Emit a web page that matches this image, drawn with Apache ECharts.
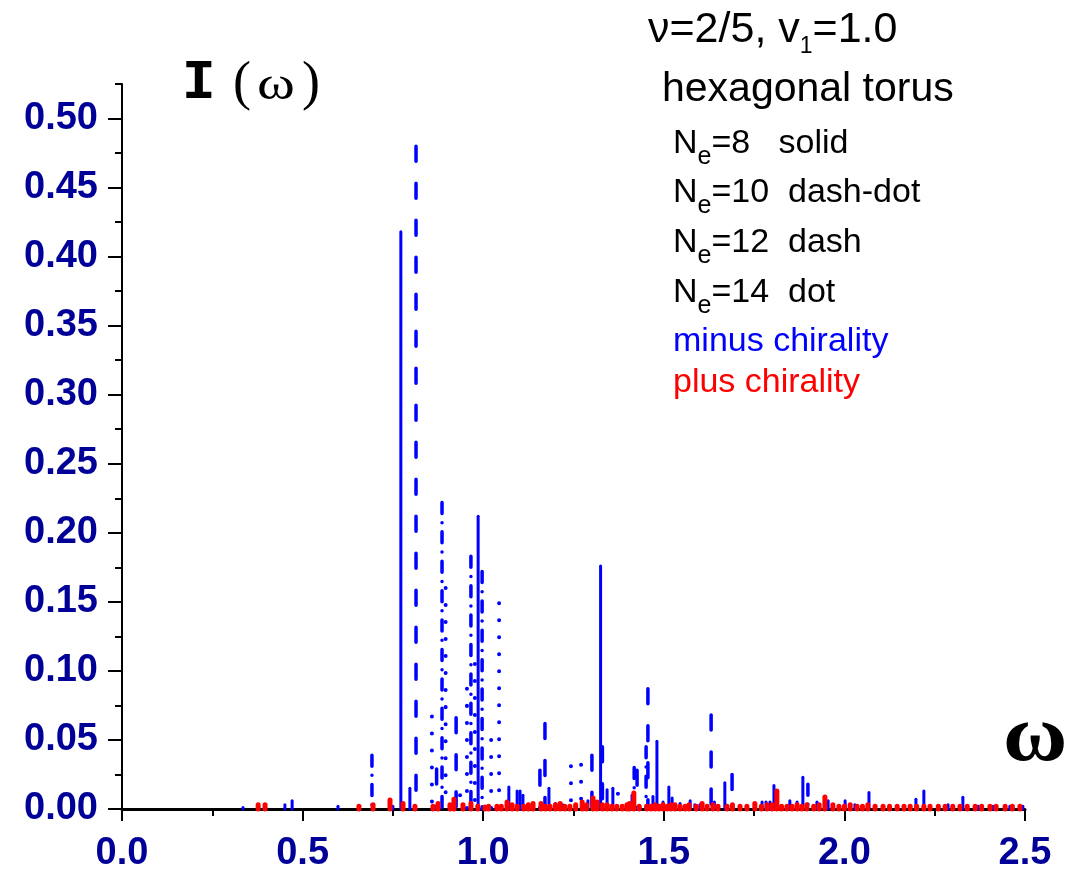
<!DOCTYPE html>
<html><head><meta charset="utf-8">
<script src="https://cdn.jsdelivr.net/npm/echarts@6/dist/echarts.min.js"></script>
<style>html,body{margin:0;padding:0;background:#fff}#c{width:1069px;height:873px}</style>
</head><body><div id="c"></div>
<script>
// ---- tick labels ----
const xTickValues = [0, 0.5, 1.0, 1.5, 2.0, 2.5];
const yTickValues = [0, 0.05, 0.10, 0.15, 0.20, 0.25, 0.30, 0.35, 0.40, 0.45, 0.50];

// ---- minus chirality (blue) ----
// N_e = 8, solid
const solidX = [0.471, 0.772, 0.986, 1.071, 1.325, 1.481, 1.514, 1.669, 1.805, 1.885, 2.068, 2.220, 2.328];
const solidY = [0.006, 0.418, 0.212, 0.016, 0.176, 0.049, 0.016, 0.019, 0.017, 0.023, 0.012, 0.013, 0.0085];
// N_e = 10, dash-dot
const dashDotX = [0.692, 0.886, 0.966, 0.997, 1.418, 1.451, 1.899];
const dashDotY = [0.039, 0.222, 0.183, 0.172, 0.030, 0.045, 0.018];
// N_e = 12, dash
const dashX = [0.814, 0.871, 0.925, 1.157, 1.171, 1.301, 1.330, 1.426, 1.456, 1.631, 1.689];
const dashY = [0.480, 0.029, 0.066, 0.028, 0.062, 0.039, 0.045, 0.028, 0.087, 0.068, 0.025];
// N_e = 14, dot
const dotX = [0.858, 0.896, 0.936, 0.955, 0.977, 1.022, 1.044, 1.243, 1.271, 1.373];
const dotY = [0.067, 0.160, 0.010, 0.087, 0.105, 0.050, 0.149, 0.031, 0.032, 0.011];
// small minus-chirality peaks
const minusSmallX = [0.335, 0.451, 0.598, 0.750, 0.797, 1.094, 1.102, 1.110, 1.182, 1.200, 1.220, 1.290, 1.343, 1.359, 1.412, 1.470, 1.498, 1.523, 1.545, 1.573, 1.586, 1.600, 1.640, 1.730, 1.772, 1.783, 1.794, 1.849, 1.869, 1.924, 1.955, 2.002, 2.029, 2.198, 2.287, 2.370, 2.411, 2.458, 2.494];
const minusSmallY = [0.001, 0.003, 0.002, 0.002, 0.015, 0.013, 0.013, 0.010, 0.015, 0.004, 0.003, 0.006, 0.014, 0.015, 0.010, 0.009, 0.005, 0.008, 0.004, 0.006, 0.003, 0.003, 0.005, 0.002, 0.005, 0.005, 0.005, 0.006, 0.005, 0.005, 0.006, 0.006, 0.003, 0.007, 0.003, 0.002, 0.002, 0.002, 0.002];

// ---- plus chirality (red) ----
const plusX = [0.377, 0.396, 0.656, 0.695, 0.742, 0.778, 0.811, 0.861, 0.875, 0.908, 0.919, 0.944, 0.966, 1.005, 1.038, 1.066, 1.094, 1.138, 1.160, 1.185, 1.213, 1.240, 1.274, 1.304, 1.315, 1.343, 1.370, 1.398, 1.417, 1.453, 1.476, 1.498, 1.531, 1.559, 1.606, 1.636, 1.675, 1.711, 1.752, 1.786, 1.813, 1.841, 1.869, 1.896, 1.946, 1.968, 2.016, 2.035, 2.065, 2.107, 2.146, 2.182, 2.237, 2.279, 2.320, 2.362, 2.403, 2.445, 2.486];
const plusY = [0.003, 0.003, 0.002, 0.003, 0.0065, 0.004, 0.002, 0.002, 0.004, 0.003, 0.007, 0.003, 0.004, 0.0015, 0.002, 0.005, 0.002, 0.004, 0.004, 0.002, 0.004, 0.002, 0.005, 0.008, 0.005, 0.003, 0.002, 0.003, 0.0115, 0.002, 0.003, 0.003, 0.003, 0.002, 0.004, 0.003, 0.002, 0.002, 0.004, 0.003, 0.013, 0.002, 0.003, 0.003, 0.0087, 0.003, 0.003, 0.002, 0.003, 0.002, 0.002, 0.002, 0.002, 0.002, 0.002, 0.002, 0.002, 0.002, 0.002];
// dense low plus-chirality peaks along the baseline
const plusBaseX = [0.985, 1.015, 1.050, 1.080, 1.112, 1.125, 1.172, 1.200, 1.226, 1.256, 1.286, 1.330, 1.356, 1.385, 1.405, 1.432, 1.465, 1.487, 1.510, 1.520, 1.545, 1.570, 1.590, 1.620, 1.650, 1.690, 1.730, 1.770, 1.800, 1.826, 1.855, 1.882, 1.915, 1.930, 1.985, 2.000, 2.050, 2.085, 2.125, 2.165, 2.200, 2.220, 2.260, 2.300, 2.340, 2.380, 2.420, 2.465];
const plusBaseY = [0.002, 0.002, 0.002, 0.003, 0.002, 0.003, 0.002, 0.003, 0.002, 0.003, 0.003, 0.003, 0.002, 0.002, 0.004, 0.002, 0.002, 0.002, 0.002, 0.003, 0.002, 0.003, 0.002, 0.002, 0.002, 0.003, 0.002, 0.002, 0.003, 0.002, 0.002, 0.002, 0.002, 0.003, 0.002, 0.002, 0.002, 0.002, 0.002, 0.002, 0.002, 0.002, 0.002, 0.002, 0.002, 0.002, 0.002, 0.002];

const BLUE = '#0000ff', RED = '#ff0000', NAVY = '#000099';
const SANS = '"Liberation Sans", Arial, sans-serif';
const SERIF = '"Liberation Serif", "Times New Roman", serif';
const MONO = '"Liberation Mono", "Courier New", monospace';

function zip(xs, ys) { return xs.map((x, i) => [x, ys[i]]); }
function stick(color, width, dash) {
  return function (params, api) {
    const x = api.value(0), h = api.value(1);
    const top = api.coord([x, h]), bot = api.coord([x, 0]);
    return { type: 'line',
      shape: { x1: top[0], y1: top[1], x2: bot[0], y2: bot[1] },
      style: { stroke: color, lineWidth: width, lineDash: dash, lineCap: 'round', fill: null } };
  };
}
function stickSeries(name, xs, ys, color, width, dash, z) {
  return { type: 'custom', name: name, renderItem: stick(color, width, dash),
    data: zip(xs, ys), encode: { x: 0, y: 1 }, z: z, clip: false, silent: true };
}

const chart = echarts.init(document.getElementById('c'), null, { renderer: 'canvas' });
const nRich = {
  m: { fontSize: 34, fontFamily: SANS, color: '#000', lineHeight: 52 },
  s: { fontSize: 25, fontFamily: SANS, color: '#000', lineHeight: 25, verticalAlign: 'bottom' }
};
function rowText(y, txt) {
  return { type: 'text', x: 673, y: y, style: { text: txt, rich: nRich, verticalAlign: 'middle', align: 'left' } };
}
chart.setOption({
  animation: false,
  backgroundColor: '#fff',
  grid: { left: 122, right: 44, top: 84, bottom: 61, containLabel: false },
  xAxis: {
    type: 'value', min: 0, max: 2.5, interval: 0.5,
    axisLine: { show: true, onZero: false, lineStyle: { color: '#000', width: 3 } },
    axisTick: { show: true, inside: false, length: 12, lineStyle: { color: '#000', width: 2 } },
    minorTick: { show: true, splitNumber: 2, length: 7, lineStyle: { color: '#000', width: 2 } },
    splitLine: { show: false },
    axisLabel: { margin: 26, color: NAVY, fontSize: 38, fontWeight: 'bold', fontFamily: SANS,
      formatter: v => v.toFixed(1) }
  },
  yAxis: [{
    type: 'value', min: 0, max: 0.525,
    axisLine: { show: true, onZero: false, lineStyle: { color: '#000', width: 2 } },
    axisTick: { show: true, inside: false, length: 14, customValues: yTickValues, lineStyle: { color: '#000', width: 2 } },
    splitLine: { show: false },
    axisLabel: { margin: 24, color: NAVY, fontSize: 38, fontWeight: 'bold', fontFamily: SANS,
      customValues: yTickValues, formatter: v => v.toFixed(2) }
  }, {
    type: 'value', min: 0, max: 0.525, interval: 0.025, position: 'left',
    axisLine: { show: false }, axisLabel: { show: false }, splitLine: { show: false },
    axisTick: { show: true, inside: false, length: 7, lineStyle: { color: '#000', width: 2 } }
  }],
  series: [
    stickSeries('Ne=8 solid', solidX, solidY, BLUE, 3, null, 3),
    stickSeries('minus small', minusSmallX, minusSmallY, BLUE, 3, null, 3),
    stickSeries('Ne=10 dash-dot', dashDotX, dashDotY, BLUE, 3.5, [11, 9.2, 0.01, 9.2], 3),
    stickSeries('Ne=12 dash', dashX, dashY, BLUE, 3.5, [15, 22], 3),
    stickSeries('Ne=14 dot', dotX, dotY, BLUE, 4, [0.01, 17], 3),
    stickSeries('plus chirality', plusX, plusY, RED, 5, null, 4),
    stickSeries('plus base', plusBaseX, plusBaseY, RED, 5, null, 4)
  ],
  graphic: [
    { type: 'text', x: 648, y: 30, style: { text: '{m|ν=2/5, v}{s|1}{m|=1.0}', verticalAlign: 'middle', align: 'left',
      rich: { m: { fontSize: 43, fontFamily: SANS, color: '#000', lineHeight: 56 },
              s: { fontSize: 23, fontFamily: SANS, color: '#000', lineHeight: 23, verticalAlign: 'bottom' } } } },
    { type: 'text', x: 662, y: 90, style: { text: 'hexagonal torus', fontSize: 41, fontFamily: SANS, fill: '#000', verticalAlign: 'middle', align: 'left' } },
    rowText(144, '{m|N}{s|e}{m|=8   solid}'),
    rowText(193, '{m|N}{s|e}{m|=10  dash-dot}'),
    rowText(243, '{m|N}{s|e}{m|=12  dash}'),
    rowText(293, '{m|N}{s|e}{m|=14  dot}'),
    { type: 'text', x: 673, y: 342, style: { text: 'minus chirality', fontSize: 34, fontFamily: SANS, fill: BLUE, verticalAlign: 'middle', align: 'left' } },
    { type: 'text', x: 673, y: 383, style: { text: 'plus chirality', fontSize: 34, fontFamily: SANS, fill: RED, verticalAlign: 'middle', align: 'left' } },
    { type: 'text', x: 182, y: 84, style: { text: 'I', fontSize: 56, fontWeight: 'bold', fontFamily: MONO, fill: '#000', verticalAlign: 'middle', align: 'left' } },
    { type: 'text', x: 233, y: 85, style: { text: '(', fontSize: 54, fontFamily: SERIF, fill: '#000', verticalAlign: 'middle', align: 'left' } },
    { type: 'text', x: 257, y: 87, scaleX: 1.25, style: { text: 'ω', fontSize: 46, fontFamily: SERIF, fill: '#000', verticalAlign: 'middle', align: 'left' } },
    { type: 'text', x: 302, y: 85, style: { text: ')', fontSize: 54, fontFamily: SERIF, fill: '#000', verticalAlign: 'middle', align: 'left' } },
    { type: 'text', x: 1003, y: 739, scaleX: 1.1, style: { text: 'ω', fontSize: 80, fontWeight: 'bold', fontFamily: SERIF, fill: '#000', verticalAlign: 'middle', align: 'left' } }
  ]
});
</script>
</body></html>
